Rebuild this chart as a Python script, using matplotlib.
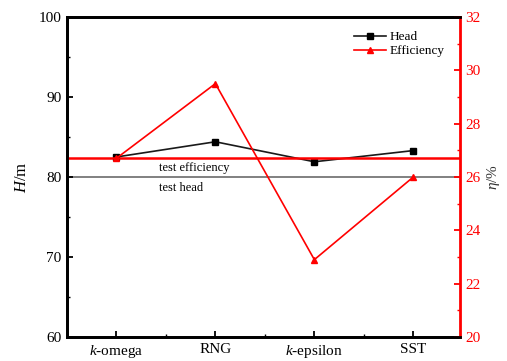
import matplotlib
matplotlib.use("Agg")
import matplotlib.pyplot as plt
from matplotlib.ticker import MultipleLocator, FixedLocator

plt.rcParams['font.family'] = ['Liberation Serif', 'DejaVu Serif']
plt.rcParams['mathtext.fontset'] = 'custom'
plt.rcParams['mathtext.rm'] = 'Liberation Serif'
plt.rcParams['mathtext.it'] = 'Liberation Serif:italic'

models = ["$k$-omega", "RNG", "$k$-epsilon", "SST"]
head = [82.5, 84.4, 81.9, 83.3]
efficiency = [26.7, 29.5, 22.9, 26.0]
test_head = 80.0
test_efficiency = 26.7

red = "#ff0000"
fig = plt.figure(figsize=(5.07, 3.61), dpi=100)
ax = fig.add_axes([0.132, 0.0665, 0.775, 0.8865])
ax2 = ax.twinx()

x = list(range(len(models)))

ax.axhline(test_head, color="#808080", lw=1.4, zorder=1)
ln1, = ax.plot(x, head, color="#1a1a1a", lw=1.2, marker="s", ms=4.5,
               markerfacecolor="black", markeredgecolor="black", label="Head", zorder=3)

ax2.axhline(test_efficiency, color=red, lw=1.8, zorder=1)
ln2, = ax2.plot(x, efficiency, color=red, lw=1.2, marker="^", ms=5,
                markerfacecolor=red, markeredgecolor=red, label="Efficiency", zorder=3)

ax.set_xlim(-0.5, 3.47)
ax.set_ylim(60, 100)
ax2.set_ylim(20, 32)

ax.set_xticks(x)
ax.set_xticklabels(models, fontsize=11)
ax.xaxis.set_minor_locator(FixedLocator([0.5, 1.5, 2.5]))
ax.yaxis.set_major_locator(MultipleLocator(10))
ax.yaxis.set_minor_locator(MultipleLocator(5))
ax2.yaxis.set_major_locator(MultipleLocator(2))
ax2.yaxis.set_minor_locator(MultipleLocator(1))

ax.tick_params(axis="both", which="major", direction="in", length=4, width=1.3, labelsize=11, pad=4)
ax.tick_params(axis="both", which="minor", direction="in", length=2.5, width=1.0)
ax.tick_params(axis="y", which="both", right=False)
ax.tick_params(axis="x", which="both", top=False)
ax2.tick_params(axis="y", which="major", direction="in", length=4, width=1.3,
                colors=red, labelsize=11, pad=4)
ax2.tick_params(axis="y", which="minor", direction="in", length=2.5, width=1.0, colors=red)

for side in ["left", "bottom", "top"]:
    ax.spines[side].set_linewidth(2.0)
    ax2.spines[side].set_linewidth(2.0)
ax2.spines["right"].set_color(red)
ax2.spines["right"].set_linewidth(2.0)
ax.spines["right"].set_visible(False)

ax.set_ylabel("$H$/m", fontsize=12, labelpad=6)
ax2.set_ylabel(r"$\eta$/%", fontsize=11, rotation=90, labelpad=3, color="#333333")

ax.text(0.43, 81.1, "test efficiency", fontsize=9, ha="left", va="center")
ax.text(0.43, 78.6, "test head", fontsize=9, ha="left", va="center")

ax2.legend(handles=[ln1, ln2], loc="upper right", frameon=False, fontsize=9.5,
           handlelength=2.4, handletextpad=0.3, labelspacing=0.15,
           bbox_to_anchor=(0.985, 0.985), borderaxespad=0.3)

fig.savefig("out.png", dpi=100)
